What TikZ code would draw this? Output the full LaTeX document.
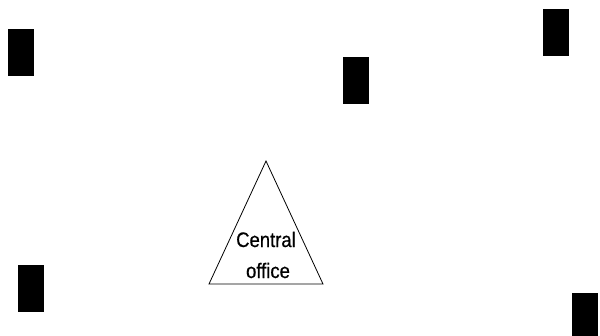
\documentclass[tikz,border=0pt]{standalone}
\usepackage{fontspec}
\setmainfont{Liberation Sans}
\newfontfamily\cofont[FakeStretch=0.88, FakeBold=0.6]{Liberation Sans}
\usetikzlibrary{positioning}
\tikzstyle{site}=[rectangle, fill=black, draw=none, minimum width=26pt, minimum height=47pt, inner sep=0pt]
\tikzstyle{office}=[anchor=base, inner sep=0pt]

\begin{document}
\begin{tikzpicture}[x=1pt, y=-1pt, line width=0.8pt]

\tikzset{every node/.style={font=\cofont\fontsize{21pt}{31pt}\selectfont}}

% page frame
\useasboundingbox (0,0) rectangle (600,335);

% Subscriber sites
\node[site] (s1) at (21,52) {};
\node[site] (s2) at (356,80) {};
\node[site] (s3) at (556,32) {};
\node[site] (s4) at (31,288) {};
\node[site] (s5) at (585,316) {};

% Central office
\coordinate (apex) at (266,161);
\coordinate (baseL) at (209,284);
\coordinate (baseR) at (323,284);
\draw (apex) -- (baseL) -- (baseR) -- cycle;
\node[office] (co1) at (266,247) {Central};
\node[office] (co2) at (268,278) {office};

\end{tikzpicture}
\end{document}
